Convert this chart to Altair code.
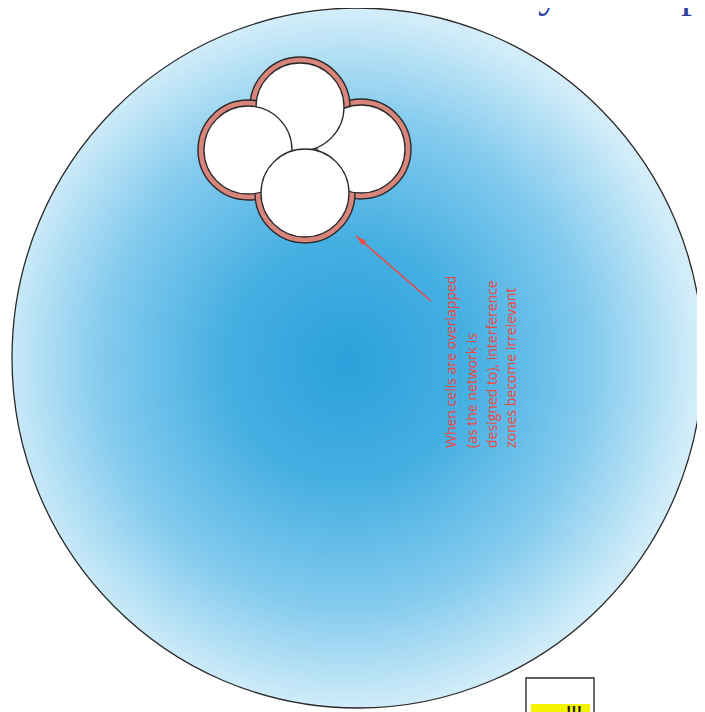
import math
import altair as alt
import pandas as pd

# ---- layout (page pixel coordinates are used as data units) ----
W, H = 689, 704
X0, Y0 = 8, 8

# ---- data ----
# big coverage area (slightly elliptical in the picture)
area_cx = [357.5]
area_cy = [358]
area_rx = [345.5]
area_ry = [350]

# four overlapping cells (draw order: right, top, left, bottom)
cell_name = ["right", "top", "left", "bottom"]
cell_x = [361, 300, 248, 305]
cell_y = [149, 107, 150, 193]
cell_r = [44, 44, 44, 44]
ring_r = [50, 50, 50, 50]

# arrow (tail -> tip)
arrow_x = [431, 356]
arrow_y = [301, 236]

# rotated red note
note_lines = [
    "When cells are overlapped",
    "(as the network is",
    "designed to), interference",
    "zones become irrelevant",
]
note_x = [452, 473, 493, 512]
note_y = [448, 448, 448, 448]

# cut-off slide title at the top
title_text = ["Interference zones are reduced mostly in the p"]
title_x = [703]
title_y = [7]

# small box at the bottom right
box_x, box_x2, box_y, box_y2 = [526], [594], [678], [740]
hl_x, hl_x2, hl_y, hl_y2 = [531], [590], [704], [720]
hl_text = ["!!!"]
hl_tx, hl_ty = [574], [704]

# ---- scales ----
XS = alt.Scale(domain=[X0, X0 + W], nice=False, zero=False)
YS = alt.Scale(domain=[Y0, Y0 + H], nice=False, zero=False, reverse=True)

def xe(f):
    return alt.X(f, type="quantitative", scale=XS, axis=None)

def ye(f):
    return alt.Y(f, type="quantitative", scale=YS, axis=None)

gradient = {
    "gradient": "radial",
    "x1": 0.485, "y1": 0.505, "r1": 0,
    "x2": 0.485, "y2": 0.505, "r2": 0.5,
    "stops": [
        {"offset": 0.0, "color": "#2aa1db"},
        {"offset": 0.35, "color": "#46afe2"},
        {"offset": 0.7, "color": "#84cbee"},
        {"offset": 1.0, "color": "#d2edf9"},
    ],
}

# ellipse as a unit symbol path, scaled by size
k = area_rx[0] / area_ry[0]
ellipse_path = (
    f"M{-k},0A{k},1,0,1,0,{k},0A{k},1,0,1,0,{-k},0Z"
)
df_area = pd.DataFrame({"cx": area_cx, "cy": area_cy})
area = alt.Chart(df_area).mark_point(
    shape=ellipse_path, filled=True, fill=gradient, opacity=1,
    stroke="#2a2a2a", strokeWidth=1.3, strokeOpacity=1,
    size=(2 * area_ry[0]) ** 2
).encode(x=xe("cx"), y=ye("cy"))

df_cells = pd.DataFrame(
    {"name": cell_name, "cx": cell_x, "cy": cell_y, "r": cell_r, "rr": ring_r}
)
rings = alt.Chart(df_cells).mark_arc(
    theta=0, theta2=2 * math.pi, fill="#d8857c", stroke="#2a2a2a", strokeWidth=1.4
).encode(x=xe("cx"), y=ye("cy"), radius=alt.Radius("rr:Q", scale=None, stack=False))

cells = alt.Chart(df_cells).mark_arc(
    theta=0, theta2=2 * math.pi, fill="#ffffff", stroke="#2a2a2a", strokeWidth=1.3
).encode(x=xe("cx"), y=ye("cy"), radius=alt.Radius("r:Q", scale=None, stack=False))

# arrow
df_arrow = pd.DataFrame({"x": [arrow_x[0]], "y": [arrow_y[0]],
                         "x2": [arrow_x[1]], "y2": [arrow_y[1]]})
arrow_line = alt.Chart(df_arrow).mark_rule(color="#ef4a44", strokeWidth=1.6).encode(
    x=xe("x"), y=ye("y"), x2="x2:Q", y2="y2:Q")

dx = arrow_x[1] - arrow_x[0]
dy = arrow_y[1] - arrow_y[0]
L = math.hypot(dx, dy)
head_len = 11
hx = arrow_x[1] - dx / L * head_len / 2
hy = arrow_y[1] - dy / L * head_len / 2
head_angle = math.degrees(math.atan2(dx, -dy)) % 360
df_head = pd.DataFrame({"x": [hx], "y": [hy]})
arrow_head = alt.Chart(df_head).mark_point(
    shape="M0,-1L0.55,1L-0.55,1Z", filled=True, color="#ef4a44", opacity=1,
    size=head_len ** 2, angle=head_angle, strokeWidth=0
).encode(x=xe("x"), y=ye("y"))

df_note = pd.DataFrame({"t": note_lines, "x": note_x, "y": note_y})
note = alt.Chart(df_note).mark_text(
    angle=270, align="left", baseline="middle", font="Open Sans",
    fontSize=14, color="#f0453c"
).encode(x=xe("x"), y=ye("y"), text="t:N")

df_title = pd.DataFrame({"t": title_text, "x": title_x, "y": title_y})
title = alt.Chart(df_title).mark_text(
    align="right", baseline="alphabetic", font="Liberation Serif",
    fontSize=44, color="#2f3f9f"
).encode(x=xe("x"), y=ye("y"), text="t:N")

df_box = pd.DataFrame({"x": box_x, "x2": box_x2, "y": box_y, "y2": box_y2})
box = alt.Chart(df_box).mark_rect(fill="#ffffff", stroke="#2a2a2a", strokeWidth=1.4).encode(
    x=xe("x"), x2="x2:Q", y=ye("y"), y2="y2:Q")

df_hl = pd.DataFrame({"x": hl_x, "x2": hl_x2, "y": hl_y, "y2": hl_y2})
hl = alt.Chart(df_hl).mark_rect(fill="#f4f400").encode(
    x=xe("x"), x2="x2:Q", y=ye("y"), y2="y2:Q")

df_hlt = pd.DataFrame({"t": hl_text, "x": hl_tx, "y": hl_ty})
hl_t = alt.Chart(df_hlt).mark_text(
    align="center", baseline="top", font="Liberation Sans", fontSize=16,
    fontWeight="bold", color="#1a1a1a", dy=1
).encode(x=xe("x"), y=ye("y"), text="t:N")

chart = alt.layer(area, rings, cells, arrow_line, arrow_head, note, title, box, hl, hl_t).properties(
    width=W, height=H, padding=0, autosize=alt.AutoSizeParams(type="none"),
    background="#ffffff"
).configure_view(stroke=None)

chart.save("out.html", embed_options={"renderer": "svg", "actions": False})
